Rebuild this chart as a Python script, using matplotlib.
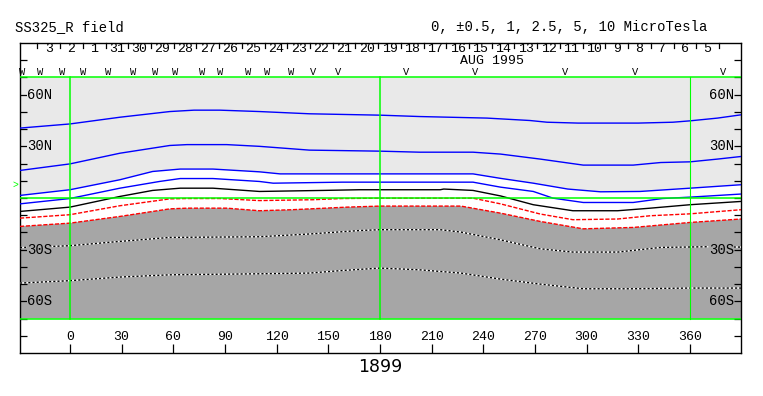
import numpy as np
import matplotlib.pyplot as plt

plt.rcParams['font.family'] = ['Liberation Mono', 'DejaVu Sans']

# ============================================================
# DATA
# ============================================================
# contour lines: longitude (deg) / latitude (deg)
blue1_lon = [-29, 0, 29, 58, 72, 87, 110, 139, 180, 203, 242, 267, 277, 295, 330, 350, 360, 376, 389.6]
blue1_lat = [40.6, 43.0, 46.9, 50.2, 51.0, 51.0, 50.2, 48.9, 48.1, 47.3, 46.4, 45.0, 44.0, 43.5, 43.5, 44.0, 44.8, 46.4, 48.3]

blue2_lon = [-29, 0, 29, 58, 68, 91, 110, 139, 180, 203, 234, 250, 273, 298, 327, 343, 360, 376, 389.6]
blue2_lat = [16.0, 19.8, 26.0, 30.5, 31.0, 31.0, 30.0, 27.8, 27.2, 26.6, 26.6, 25.5, 22.6, 19.1, 19.1, 20.6, 21.0, 22.6, 24.1]

blue3_lon = [-29, 0, 29, 48, 64, 83, 110, 122, 149, 234, 250, 269, 289, 308, 331, 360, 389.6]
blue3_lat = [1.5, 4.8, 10.6, 15.4, 16.8, 16.8, 15.2, 14.0, 14.0, 14.0, 11.4, 8.6, 5.2, 3.6, 3.8, 5.7, 7.7]

blue4_lon = [-29, 0, 29, 52, 64, 83, 110, 118, 158, 234, 250, 269, 280.5, 298, 327, 344, 360, 389.6]
blue4_lat = [-3.4, -0.3, 5.7, 9.6, 11.3, 11.3, 9.6, 8.6, 9.2, 9.2, 6.3, 3.8, -0.1, -2.6, -2.6, -0.3, 0.5, 2.3]

black_lon = [-29, 0, 29, 48, 64, 83, 110, 147, 168, 215, 217, 234, 250, 269, 292, 318, 337, 360, 389.6]
black_lat = [-7.8, -5.3, 0.9, 4.4, 5.7, 5.7, 3.8, 4.4, 4.8, 4.8, 5.2, 4.4, 1.2, -3.9, -7.4, -7.4, -5.9, -3.9, -2.0]

red1_lon = [-29, 0, 29, 58, 68, 87, 110, 141, 158, 180, 234, 250, 273, 292, 318, 337, 360, 389.6]
red1_lat = [-11.7, -9.7, -4.5, -0.5, -0.3, -0.3, -1.5, -1.0, -0.3, -0.1, -0.1, -3.4, -9.3, -12.6, -12.2, -10.3, -9.2, -6.8]

red2_lon = [-29, 0, 29, 58, 68, 91, 110, 129, 161, 180, 227, 250, 273, 298, 327, 360, 389.6]
red2_lat = [-16.5, -14.6, -10.7, -6.3, -5.9, -5.9, -7.4, -6.8, -5.3, -4.7, -4.7, -8.8, -13.6, -17.9, -17.1, -14.2, -12.2]

white1_lon = [-29, -10.6, 0, 29, 58, 110, 139, 168, 180, 215, 227, 250, 273, 292, 318, 343, 370, 389.6]
white1_lat = [-28.8, -28.1, -27.7, -25.2, -22.9, -22.5, -20.9, -18.9, -18.4, -18.4, -19.8, -24.3, -29.5, -31.4, -31.4, -28.7, -28.3, -28.5]

white2_lon = [-29, 0, 29, 58, 110, 139, 158, 180, 203, 227, 250, 273, 298, 327, 360, 389.6]
white2_lat = [-49.4, -48.0, -45.9, -44.6, -44.0, -43.6, -42.1, -40.7, -41.7, -43.6, -47.1, -50.0, -52.7, -52.7, -52.3, -52.3]

lon_ticks = [0, 30, 60, 90, 120, 150, 180, 210, 240, 270, 300, 330, 360]
lat_labels = {60: '60N', 30: '30N', -30: '30S', -60: '60S'}
day_labels = ['3', '2', '1', '31', '30', '29', '28', '27', '26', '25', '24', '23', '22', '21', '20',
              '19', '18', '17', '16', '15', '14', '13', '12', '11', '10', '9', '8', '7', '6', '5']
pass_lon = [-27.9, -17.4, -4.8, 7.7, 22.2, 36.8, 49.3, 61.0, 76.5, 87.1, 103.5, 114.2, 128.7,
            141.3, 155.8, 195.1, 235.1, 287.4, 328.0, 379.3]
pass_sym = ['W'] * 13 + ['V'] * 7

# ============================================================
# FIGURE
# ============================================================
LIGHT = '#e9e9e9'
DARK = '#a6a6a6'
GREEN = '#00ff00'
X0, X1 = -29, 389.6

fig = plt.figure(figsize=(7.63, 3.96), dpi=100)
ax = fig.add_axes([20 / 763, 43 / 396, 721 / 763, 310 / 396])
ax.set_xlim(X0, X1)
ax.set_ylim(-90, 90)
for s in ax.spines.values():
    s.set_linewidth(1.0)

# shaded regions
ax.fill(blue3_lon + [X1, X0], blue3_lat + [70, 70], color=LIGHT, lw=0, zorder=1)
ax.fill(red2_lon + [X1, X0], red2_lat + [-70, -70], color=DARK, lw=0, zorder=1)

# contour lines
for lo, la in [(blue1_lon, blue1_lat), (blue2_lon, blue2_lat), (blue3_lon, blue3_lat), (blue4_lon, blue4_lat)]:
    ax.plot(lo, la, color='#0000ff', lw=1.0, zorder=3)
ax.plot(black_lon, black_lat, color='black', lw=1.0, zorder=3)
for lo, la in [(red1_lon, red1_lat), (red2_lon, red2_lat)]:
    ax.plot(lo, la, color='#ff0000', lw=1.0, ls=(0, (3, 1.2)), zorder=3)
for lo, la in [(white1_lon, white1_lat), (white2_lon, white2_lat)]:
    ax.plot(lo, la, color='white', lw=1.0, zorder=3)
    ax.plot(lo, la, color='black', lw=1.0, ls=(0, (1.5, 1.5)), zorder=3)

# green frame lines
for la in [70, 0, -70]:
    ax.plot([X0, X1], [la, la], color=GREEN, lw=1.1, zorder=4)
for lo, w in [(0, 1.1), (180, 1.1), (360, 0.8)]:
    ax.plot([lo, lo], [-70, 70], color=GREEN, lw=w, zorder=4)

# latitude ticks (inside, both sides)
ax.set_yticks(np.arange(-80, 81, 10))
ax.set_xticks(lon_ticks)
ax.tick_params(axis='y', direction='in', length=5, width=0.9, left=True, right=True,
               labelleft=False, labelright=False)
ax.tick_params(axis='x', direction='in', length=6.5, width=0.9, top=False, labelbottom=False)
for la, txt in lat_labels.items():
    bg = LIGHT if la > 0 else DARK
    ax.text(-24.9, la, txt, ha='left', va='center', fontsize=10, zorder=6,
            bbox=dict(facecolor=bg, edgecolor='none', pad=0))
    ax.text(385.5, la, txt, ha='right', va='center', fontsize=10, zorder=6,
            bbox=dict(facecolor=bg, edgecolor='none', pad=0))

# longitude labels
for lo in lon_ticks:
    ax.text(lo, -80.9, str(lo), ha='center', va='center', fontsize=9.5)

# day axis on top
day0, dstep = -18.9, 13.19
for k in range(len(day_labels) + 1):
    xx = day0 + k * dstep
    ax.plot([xx, xx], [90, 87], color='black', lw=0.9, clip_on=False)
for k, lab in enumerate(day_labels):
    ax.text(day0 + (k + 0.5) * dstep, 86.3, lab, ha='center', va='center', fontsize=9.5)
ax.text(244.9, 79.4, 'AUG 1995', ha='center', va='center', fontsize=9.5)

# pass markers
for lo, sym in zip(pass_lon, pass_sym):
    ax.text(lo, 70.4, sym, ha='center', va='bottom', fontsize=7.5, zorder=5)

ax.text(-31.4, 7.7, '>', color=GREEN, ha='center', va='center', fontsize=7, clip_on=False)

# titles
fig.text(15 / 763, 1 - 27 / 396, 'SS325_R field', ha='left', va='center', fontsize=10)
fig.text(431 / 763, 1 - 27 / 396, '0, \u00b10.5, 1, 2.5, 5, 10 MicroTesla', ha='left', va='center', fontsize=10)
fig.text(380 / 763, 1 - 367 / 396, '1899', ha='center', va='center', fontsize=12.5,
         family='DejaVu Sans')

plt.savefig('out.png', dpi=100)
